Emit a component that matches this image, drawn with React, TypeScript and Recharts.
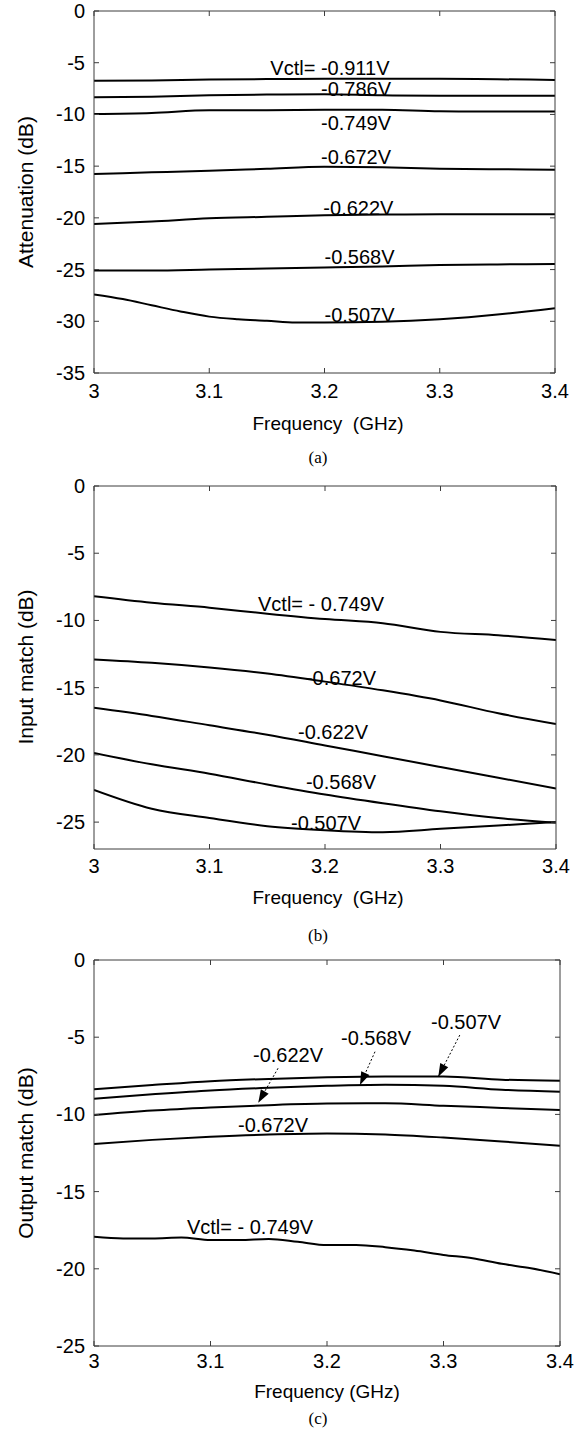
import React from 'react';
import { ComposedChart, Line, Scatter, XAxis, YAxis } from 'recharts';

const FONT = '"Liberation Sans", Arial, Helvetica, sans-serif';
const SERIF = '"Liberation Serif", "Times New Roman", serif';
const AXIS_COLOR = '#3c3c3c';

// ---------- shared x data ----------
const freq = [3.0, 3.05, 3.1, 3.15, 3.2, 3.25, 3.3, 3.35, 3.4];
const freqFine = [3.0, 3.025, 3.05, 3.075, 3.1, 3.125, 3.15, 3.175, 3.2, 3.225, 3.25, 3.275, 3.3, 3.325, 3.35, 3.375, 3.4];
const freqTicks = [3, 3.1, 3.2, 3.3, 3.4];

// ---------- (a) Attenuation ----------
const attTicks = [0, -5, -10, -15, -20, -25, -30, -35];
const att911 = [-6.75, -6.72, -6.62, -6.58, -6.55, -6.54, -6.55, -6.6, -6.66];
const att786 = [-8.35, -8.28, -8.15, -8.08, -8.05, -8.15, -8.2, -8.2, -8.2];
const att749 = [-9.95, -9.85, -9.6, -9.6, -9.55, -9.55, -9.7, -9.72, -9.72];
const att672 = [-15.75, -15.6, -15.45, -15.25, -15.05, -15.1, -15.25, -15.3, -15.35];
const att622 = [-20.6, -20.35, -20.05, -19.9, -19.75, -19.68, -19.66, -19.65, -19.65];
const att568 = [-25.1, -25.1, -25.0, -24.9, -24.8, -24.7, -24.55, -24.5, -24.45];
const att507 = [-27.4, -27.85, -28.45, -29.05, -29.55, -29.8, -29.95, -30.12, -30.12, -30.1, -30.05, -29.95, -29.8, -29.6, -29.35, -29.05, -28.75];
const attLabelText = ['Vctl= -0.911V', '-0.786V', '-0.749V', '-0.672V', '-0.622V', '-0.568V', '-0.507V'];
const attLabelF = [3.153, 3.197, 3.197, 3.197, 3.199, 3.2, 3.2];
const attLabelV = [-5.5, -7.55, -10.83, -14.07, -19.05, -23.75, -29.39];

// ---------- (b) Input match ----------
const inTicks = [0, -5, -10, -15, -20, -25];
const in749 = [-8.2, -8.68, -9.05, -9.5, -9.9, -10.2, -10.85, -11.1, -11.45];
const in672 = [-12.9, -13.15, -13.5, -13.95, -14.55, -15.2, -15.95, -16.9, -17.7];
const in622 = [-16.5, -17.1, -17.8, -18.5, -19.3, -20.1, -20.9, -21.7, -22.5];
const in568 = [-19.85, -20.7, -21.4, -22.2, -22.95, -23.6, -24.2, -24.7, -25.05];
const in507 = [-22.6, -24.0, -24.7, -25.3, -25.6, -25.75, -25.5, -25.25, -25.0];
const inLabelText = ['Vctl= - 0.749V', '-0.672V', '-0.622V', '-0.568V', '-0.507V'];
const inLabelF = [3.142, 3.1835, 3.1766, 3.1835, 3.1706];
const inLabelV = [-8.78, -14.29, -18.3, -22.0, -25.07];

// ---------- (c) Output match ----------
const outTicks = [0, -5, -10, -15, -20, -25];
const out507 = [-8.37, -8.1, -7.85, -7.7, -7.6, -7.55, -7.55, -7.75, -7.82];
const out568 = [-8.98, -8.7, -8.45, -8.28, -8.15, -8.08, -8.15, -8.4, -8.53];
const out622 = [-10.04, -9.75, -9.55, -9.4, -9.3, -9.28, -9.44, -9.58, -9.72];
const out672 = [-11.92, -11.65, -11.45, -11.3, -11.23, -11.3, -11.5, -11.75, -12.03];
const out749 = [-17.92, -18.03, -18.03, -17.97, -18.14, -18.14, -18.07, -18.25, -18.46, -18.46, -18.6, -18.82, -19.1, -19.32, -19.68, -19.96, -20.35];
const outLabelText = ['-0.622V', '-0.568V', '-0.507V', '-0.672V', 'Vctl= - 0.749V'];
const outLabelF = [3.1365, 3.212, 3.2893, 3.1236, 3.0798];
const outLabelV = [-6.15, -5.05, -4.02, -10.69, -17.29];
// arrows: [tail, tip]
const arrowF = [[3.314, 3.2955], [3.2412, 3.2283], [3.158, 3.141]];
const arrowV = [[-4.86, -7.56], [-5.94, -8.1], [-7.01, -9.24]];

// ---------- helpers ----------
const zip = (fs: number[], vs: number[]) => fs.map((f, i) => ({ f, v: vs[i] }));
const labelRows = (fs: number[], vs: number[], ts: string[]) => fs.map((f, i) => ({ f, v: vs[i], text: ts[i] }));

const AnnotationShape = (p: any) => (
  <text
    x={p.cx}
    y={p.cy}
    fontSize={20}
    fontFamily={FONT}
    fill="#000"
    textAnchor="start"
    dominantBaseline="central"
    style={{ whiteSpace: 'pre' }}
  >
    {p.payload.text}
  </text>
);

function makeArrowDot() {
  let px = 0;
  let py = 0;
  return (p: any) => {
    if (p.index === 0) {
      px = p.cx;
      py = p.cy;
      return <g key={`ad-${p.index}`} />;
    }
    const ang = (Math.atan2(p.cy - py, p.cx - px) * 180) / Math.PI;
    return (
      <polygon
        key={`ad-${p.index}`}
        points="0,0 -13,-4.5 -13,4.5"
        transform={`translate(${p.cx},${p.cy}) rotate(${ang})`}
        fill="#000"
      />
    );
  };
}

const LeftTick = (p: any) => (
  <g>
    <line x1={p.x} y1={p.y} x2={p.x + 5} y2={p.y} stroke={AXIS_COLOR} strokeWidth={1} />
    <text x={p.x - 9} y={p.y} textAnchor="end" dominantBaseline="central" fontSize={20} fontFamily={FONT} fill="#000">
      {p.payload.value}
    </text>
  </g>
);
const RightTick = (p: any) => (
  <line x1={p.x} y1={p.y} x2={p.x - 5} y2={p.y} stroke={AXIS_COLOR} strokeWidth={1} />
);
const TopTick = (p: any) => (
  <line x1={p.x} y1={p.y} x2={p.x} y2={p.y + 5} stroke={AXIS_COLOR} strokeWidth={1} />
);
const makeBottomTick = (dy: number) => (p: any) => (
  <g>
    <line x1={p.x} y1={p.y} x2={p.x} y2={p.y - 5} stroke={AXIS_COLOR} strokeWidth={1} />
    <text x={p.x} y={p.y + dy} textAnchor="middle" dominantBaseline="central" fontSize={20} fontFamily={FONT} fill="#000">
      {p.payload.value}
    </text>
  </g>
);

type Box = { top: number; right: number; bottom: number; left: number };
type PanelProps = {
  top: number;
  height: number;
  box: Box;
  yDomain: [number, number];
  yTicks: number[];
  series: { f: number; v: number }[][];
  labels: { f: number; v: number; text: string }[];
  arrows?: { f: number; v: number }[][];
  tickDy: number;
};

function Panel({ top, height, box, yDomain, yTicks, series, labels, arrows = [], tickDy }: PanelProps) {
  const bottomTick = makeBottomTick(tickDy);
  const axisLine = { stroke: AXIS_COLOR, strokeWidth: 1 };
  return (
    <div style={{ position: 'absolute', left: 0, top, width: 585, height }}>
      <ComposedChart width={585} height={height} margin={{ top: 0, right: 0, bottom: 0, left: 0 }}>
        <XAxis
          xAxisId="x"
          dataKey="f"
          type="number"
          domain={[3, 3.4]}
          ticks={freqTicks}
          interval={0}
          allowDataOverflow
          height={box.bottom}
          tickSize={0}
          tickMargin={0}
          tickLine={false}
          axisLine={axisLine}
          tick={bottomTick}
        />
        <XAxis
          xAxisId="xt"
          orientation="top"
          dataKey="f"
          type="number"
          domain={[3, 3.4]}
          ticks={freqTicks}
          interval={0}
          allowDataOverflow
          height={box.top}
          tickSize={0}
          tickMargin={0}
          tickLine={false}
          axisLine={axisLine}
          tick={TopTick}
        />
        <YAxis
          yAxisId="y"
          type="number"
          domain={yDomain}
          ticks={yTicks}
          interval={0}
          allowDataOverflow
          width={box.left}
          tickSize={0}
          tickMargin={0}
          tickLine={false}
          axisLine={axisLine}
          tick={LeftTick}
        />
        <YAxis
          yAxisId="yr"
          orientation="right"
          type="number"
          domain={yDomain}
          ticks={yTicks}
          interval={0}
          allowDataOverflow
          width={box.right}
          tickSize={0}
          tickMargin={0}
          tickLine={false}
          axisLine={axisLine}
          tick={RightTick}
        />
        {series.map((d, i) => (
          <Line
            key={`s${i}`}
            xAxisId="x"
            yAxisId="y"
            data={d}
            dataKey="v"
            type="monotone"
            stroke="#000"
            strokeWidth={2}
            dot={false}
            activeDot={false}
            isAnimationActive={false}
          />
        ))}
        {arrows.map((d, i) => (
          <Line
            key={`a${i}`}
            xAxisId="x"
            yAxisId="y"
            data={d}
            dataKey="v"
            type="linear"
            stroke="#000"
            strokeWidth={1}
            strokeDasharray="2 2"
            dot={makeArrowDot()}
            activeDot={false}
            isAnimationActive={false}
          />
        ))}
        <Scatter
          xAxisId="x"
          yAxisId="y"
          data={labels}
          dataKey="v"
          shape={AnnotationShape}
          isAnimationActive={false}
        />
      </ComposedChart>
    </div>
  );
}

const textAt = (x: number, y: number, size: number, family: string, rotate = false): React.CSSProperties => ({
  position: 'absolute',
  left: x,
  top: y,
  transform: `translate(-50%, -50%)${rotate ? ' rotate(-90deg)' : ''}`,
  fontSize: size,
  fontFamily: family,
  whiteSpace: 'pre',
  color: '#000',
  lineHeight: 1,
});

export default function App() {
  const seriesA = [
    zip(freq, att911),
    zip(freq, att786),
    zip(freq, att749),
    zip(freq, att672),
    zip(freq, att622),
    zip(freq, att568),
    zip(freqFine, att507),
  ];
  const seriesB = [zip(freq, in749), zip(freq, in672), zip(freq, in622), zip(freq, in568), zip(freq, in507)];
  const seriesC = [zip(freq, out507), zip(freq, out568), zip(freq, out622), zip(freq, out672), zip(freqFine, out749)];
  const arrowsC = arrowF.map((fs, i) => zip(fs, arrowV[i]));

  return (
    <div style={{ position: 'absolute', left: 0, top: 0, width: 585, height: 1440, background: '#fff', overflow: 'hidden' }}>
      <Panel
        top={0}
        height={460}
        box={{ top: 11, right: 30, bottom: 87, left: 94 }}
        yDomain={[-35, 0]}
        yTicks={attTicks}
        series={seriesA}
        labels={labelRows(attLabelF, attLabelV, attLabelText)}
        tickDy={18}
      />
      <Panel
        top={460}
        height={485}
        box={{ top: 26, right: 29, bottom: 96, left: 94 }}
        yDomain={[-27, 0]}
        yTicks={inTicks}
        series={seriesB}
        labels={labelRows(inLabelF, inLabelV, inLabelText)}
        tickDy={17}
      />
      <Panel
        top={945}
        height={495}
        box={{ top: 15, right: 25, bottom: 94, left: 94 }}
        yDomain={[-25, 0]}
        yTicks={outTicks}
        series={seriesC}
        labels={labelRows(outLabelF, outLabelV, outLabelText)}
        arrows={arrowsC}
        tickDy={15}
      />

      <div style={textAt(25, 192, 21, FONT, true)}>Attenuation (dB)</div>
      <div style={textAt(328, 423, 19, FONT)}>{'Frequency  (GHz)'}</div>
      <div style={textAt(318, 457, 17, SERIF)}>(a)</div>

      <div style={textAt(25, 667, 21, FONT, true)}>Input match (dB)</div>
      <div style={textAt(328, 897, 19, FONT)}>{'Frequency  (GHz)'}</div>
      <div style={textAt(318, 935, 17, SERIF)}>(b)</div>

      <div style={textAt(25, 1153, 21, FONT, true)}>Output match (dB)</div>
      <div style={textAt(327, 1391, 19, FONT)}>Frequency (GHz)</div>
      <div style={textAt(318, 1418, 17, SERIF)}>(c)</div>
    </div>
  );
}
